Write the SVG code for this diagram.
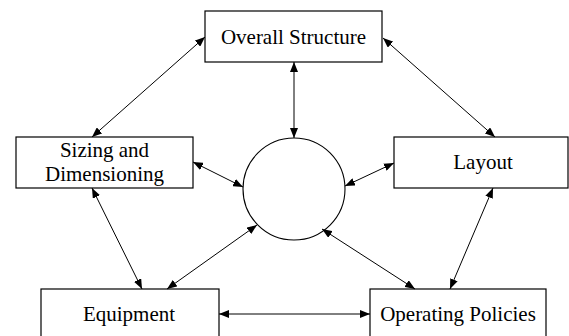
<svg xmlns="http://www.w3.org/2000/svg" width="569" height="336" viewBox="0 0 569 336">
  <style>
    .box { fill: #fff; stroke: #000; stroke-width: 1.2; }
    .hub { fill: #fff; stroke: #000; stroke-width: 1.1; }
    .label { font-family: "Liberation Serif", "Times New Roman", serif; font-size: 21px; fill: #000; text-anchor: middle; }
    .link { stroke: #000; stroke-width: 1; fill: none; marker-start: url(#head); marker-end: url(#head); }
  </style>
  <defs>
    <marker id="head" viewBox="0 0 10 8" refX="10" refY="4" markerWidth="10" markerHeight="8" markerUnits="userSpaceOnUse" orient="auto-start-reverse">
      <path d="M0,0 L10,4 L0,8 z" fill="#000"/>
    </marker>
  </defs>

  <rect width="569" height="336" fill="#fff"/>

  <g id="node-overall-structure">
    <rect class="box" x="205" y="11" width="177" height="51"/>
    <text class="label" x="293.5" y="44">Overall Structure</text>
  </g>

  <g id="node-sizing">
    <rect class="box" x="16" y="137" width="177" height="51"/>
    <text class="label" x="104.5" y="157">Sizing and</text>
    <text class="label" x="104.5" y="181">Dimensioning</text>
  </g>

  <g id="node-layout">
    <rect class="box" x="394" y="137" width="174" height="51"/>
    <text class="label" x="483" y="169">Layout</text>
  </g>

  <g id="node-equipment">
    <rect class="box" x="41" y="289" width="178" height="51"/>
    <text class="label" x="129" y="321">Equipment</text>
  </g>

  <g id="node-operating-policies">
    <rect class="box" x="370" y="289" width="176" height="51"/>
    <text class="label" x="458" y="321">Operating Policies</text>
  </g>

  <g id="node-hub">
    <circle class="hub" cx="294" cy="189" r="51"/>
  </g>

  <g id="connectors">
    <line class="link" x1="294" y1="62" x2="294" y2="138"/>
    <line class="link" x1="205" y1="37" x2="92" y2="137"/>
    <line class="link" x1="383" y1="38" x2="495" y2="137"/>
    <line class="link" x1="193" y1="162" x2="243" y2="187"/>
    <line class="link" x1="394" y1="163" x2="345" y2="186"/>
    <line class="link" x1="92" y1="188" x2="142" y2="289"/>
    <line class="link" x1="257" y1="225" x2="167" y2="289"/>
    <line class="link" x1="322" y1="229" x2="415" y2="289"/>
    <line class="link" x1="493" y1="188" x2="450" y2="289"/>
    <line class="link" x1="219" y1="314" x2="370" y2="314"/>
  </g>
</svg>
